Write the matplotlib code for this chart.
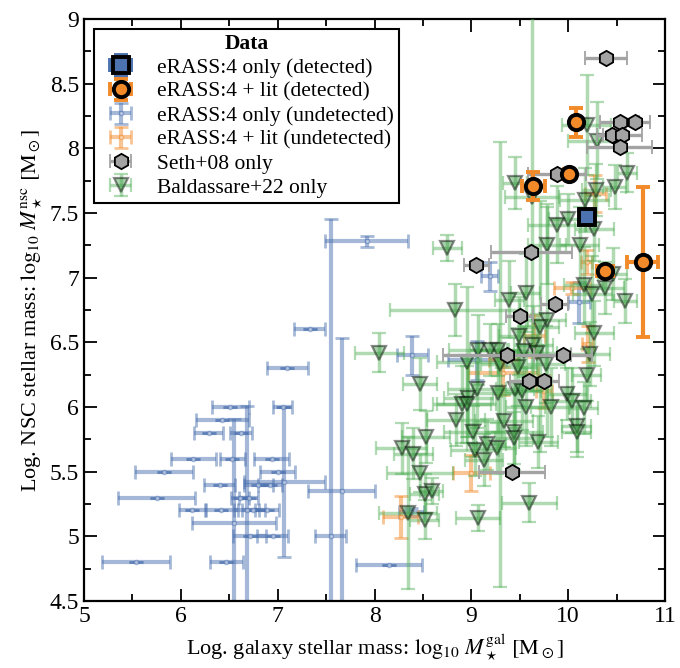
import numpy as np
import matplotlib
matplotlib.use("Agg")
import matplotlib.pyplot as plt
from matplotlib.ticker import MultipleLocator, FuncFormatter

plt.rcParams['font.family'] = ['Liberation Serif', 'DejaVu Serif']
plt.rcParams['mathtext.fontset'] = 'stix'

# eRASS:4 only, detected
det_x = [10.19]
det_y = [7.47]
det_xerr = [0.05]
det_yerr = [0.04]

# eRASS:4 + literature, detected
detlit_x = [10.08, 10.01, 9.64, 10.38, 10.77]
detlit_y = [8.20, 7.80, 7.71, 7.05, 7.12]
detlit_xerr = [0.04, 0.05, 0.12, 0.08, 0.16]
detlit_yerr = [0.11, 0.03, 0.11, 0.03, 0.58]

# eRASS:4 only, undetected
und_x = [6.51, 7.05, 6.43, 6.29, 6.62, 6.13, 6.53, 6.94, 5.83, 7.00,
         6.40, 6.80, 6.92, 7.07, 5.75, 6.61, 6.70, 6.12, 6.42, 6.68,
         6.75, 6.89, 6.55, 6.71, 6.95, 7.55, 5.54, 6.47, 8.15, 7.66,
         7.92, 7.33, 7.10, 8.39, 9.19, 9.06, 10.11, 8.38]
und_y = [6.00, 6.00, 5.90, 5.80, 5.80, 5.60, 5.60, 5.60, 5.50, 5.50,
         5.40, 5.40, 5.40, 5.42, 5.30, 5.30, 5.30, 5.20, 5.20, 5.20,
         5.20, 5.20, 5.10, 5.00, 5.00, 5.00, 4.80, 4.80, 4.78, 5.35,
         7.28, 6.60, 6.30, 6.40, 7.01, 6.36, 6.81, 5.19]
und_xerr = [0.19, 0.10, 0.27, 0.15, 0.11, 0.23, 0.13, 0.18, 0.30, 0.18,
            0.16, 0.15, 0.12, 0.42, 0.40, 0.09, 0.10, 0.14, 0.17, 0.13,
            0.12, 0.12, 0.43, 0.17, 0.16, 0.16, 0.35, 0.17, 0.34, 0.35,
            0.43, 0.16, 0.21, 0.16, 0.09, 0.30, 0.11, 0.13]
und_yerr = [0, 0, 0, 0, 0, 0, 0, 0, 0, 0,
            0, 0, 0, 0.58, 0, 0, 0, 0, 0, 0.81,
            0, 0, 0.81, 0, 0, 2.45, 0, 0, 0, 1.18,
            0.04, 0, 0, 0.15, 0.11, 0.15, 0.16, 0.03]

# eRASS:4 + literature, undetected
undlit_x = [10.19, 10.04, 9.65, 10.20, 9.33, 9.33, 9.75, 9.00, 8.27, 10.28]
undlit_y = [7.12, 6.92, 6.55, 6.49, 6.36, 6.26, 6.12, 5.49, 5.15, 7.65]
undlit_xerr = [0.06, 0.19, 0.11, 0.06, 0.15, 0.36, 0.08, 0.19, 0.18, 0.11]
undlit_yerr = [0.09, 0.05, 0.16, 0.14, 0.05, 0.17, 0.13, 0.14, 0.16, 0.14]

# Seth+08
seth_x = [10.39, 10.53, 10.69, 10.45, 10.56, 10.53, 9.88, 9.62, 9.05, 9.86,
          9.50, 9.37, 9.95, 9.60, 9.75, 9.42]
seth_y = [8.70, 8.20, 8.20, 8.10, 8.10, 8.01, 7.80, 7.20, 7.10, 6.80,
          6.70, 6.40, 6.40, 6.20, 6.20, 5.50]
seth_xerr = [0.22, 0.20, 0.15, 0.15, 0.20, 0.34, 0.30, 0.42, 0.13, 0.14,
             0.14, 0.66, 0.30, 0.20, 0.15, 0.34]

# Baldassare+22
bald_x = [10.19, 10.30, 9.45, 9.63, 10.61, 10.48, 10.29, 10.17, 9.88, 10.00,
          10.27, 8.75, 9.78, 10.12, 9.39, 9.56, 8.83, 9.78, 9.71, 10.16,
          10.25, 10.38, 10.59, 10.46, 10.27, 9.49, 9.64, 9.07, 9.19, 9.28,
          8.05, 9.54, 9.68, 10.23, 8.95, 9.30, 9.48, 9.77, 10.19, 8.47,
          9.06, 9.45, 9.52, 9.27, 9.99, 10.04, 8.97, 8.90, 8.95, 9.56,
          9.82, 10.16, 8.84, 9.34, 10.09, 10.09, 9.02, 9.44, 9.44, 8.53,
          9.69, 8.28, 8.40, 9.04, 9.16, 9.26, 9.13, 8.47, 8.52, 8.59,
          9.60, 8.35, 8.52, 9.07]
bald_y = [8.18, 8.06, 7.73, 7.62, 7.81, 7.70, 7.68, 7.60, 7.41, 7.45,
          7.38, 7.23, 7.25, 7.25, 6.83, 6.88, 6.75, 6.67, 6.62, 6.94,
          6.87, 6.92, 6.82, 7.03, 6.57, 6.55, 6.48, 6.44, 6.44, 6.44,
          6.42, 6.43, 6.42, 6.41, 6.35, 6.33, 6.31, 6.33, 6.25, 6.18,
          6.14, 6.14, 6.12, 6.11, 6.10, 6.05, 6.07, 6.02, 6.02, 6.00,
          6.00, 5.99, 5.90, 5.89, 5.85, 5.81, 5.81, 5.81, 5.76, 5.77,
          5.73, 5.68, 5.64, 5.67, 5.71, 5.68, 5.59, 5.49, 5.33, 5.35,
          5.26, 5.18, 5.13, 5.14]
bald_xerr = [0.25, 0.30, 0.12, 0.28, 0.10, 0.12, 0.15, 0.25, 0.30, 0.20,
             0.20, 0.15, 0.20, 0.20, 0.15, 0.15, 0.67, 0.20, 0.20, 0.20,
             0.20, 0.20, 0.12, 0.15, 0.20, 0.20, 0.20, 0.30, 0.20, 0.20,
             0.25, 0.20, 0.20, 0.20, 0.30, 0.20, 0.20, 0.20, 0.15, 0.18,
             0.30, 0.20, 0.20, 0.25, 0.20, 0.20, 0.25, 0.30, 0.30, 0.20,
             0.20, 0.15, 0.30, 0.30, 0.15, 0.15, 0.30, 0.30, 0.20, 0.25,
             0.20, 0.26, 0.20, 0.25, 0.20, 0.20, 0.20, 0.34, 0.15, 0.12,
             0.28, 0.30, 0.15, 0.23]
bald_yerr = [0.39, 0.30, 0.20, 1.50, 0.15, 0.17, 0.20, 0.25, 0.30, 0.20,
             0.25, 0.10, 0.30, 0.30, 0.30, 0.30, 0.20, 0.90, 0.97, 0.30,
             0.30, 0.20, 0.17, 0.20, 0.25, 0.30, 0.30, 0.27, 0.20, 0.20,
             0.15, 0.20, 0.30, 0.25, 0.58, 1.72, 0.30, 0.30, 0.20, 0.20,
             0.30, 0.30, 0.30, 0.30, 0.20, 0.25, 0.30, 0.30, 0.30, 0.30,
             0.30, 0.20, 0.20, 0.20, 0.20, 0.20, 0.20, 0.30, 0.20, 0.20,
             0.20, 0.20, 0.20, 0.20, 0.20, 0.20, 0.20, 0.15, 0.15, 0.10,
             0.15, 0.59, 0.15, 0.10]

blue = '#4c72b0'
orange = '#f28a2a'
green = '#3f9a45'
grey = '#a3a3a3'

fig = plt.figure(figsize=(6.8, 6.68), dpi=100)
ax = fig.add_axes([0.1235, 0.1003, 0.8545, 0.8713])

h_und = ax.errorbar(und_x, und_y, xerr=und_xerr, yerr=und_yerr, fmt='o', ms=3,
                    mfc='white', mec=blue, color=blue, elinewidth=3, capsize=5,
                    capthick=2, alpha=0.5, label='eRASS:4 only (undetected)', zorder=2)
h_undlit = ax.errorbar(undlit_x, undlit_y, xerr=undlit_xerr, yerr=undlit_yerr, fmt='o', ms=3,
                       mfc='white', mec=orange, color=orange, elinewidth=3, capsize=5,
                       capthick=2, alpha=0.5, label='eRASS:4 + lit (undetected)', zorder=3)
h_bald = ax.errorbar(bald_x, bald_y, xerr=bald_xerr, yerr=bald_yerr, fmt='v', ms=10.5,
                     mfc=green, mec='k', mew=1.6, color='#4fae55', elinewidth=2.5, capsize=5,
                     capthick=1.8, alpha=0.45, label='Baldassare+22 only', zorder=4)
h_seth = ax.errorbar(seth_x, seth_y, xerr=seth_xerr, fmt='h', ms=11,
                     mfc=grey, mec='k', mew=1.3, color=grey, elinewidth=2.4, capsize=5,
                     capthick=2, label='Seth+08 only', zorder=5)
h_detlit = ax.errorbar(detlit_x, detlit_y, xerr=detlit_xerr, yerr=detlit_yerr, fmt='o', ms=11,
                       mfc=orange, mec='k', mew=2.8, color=orange, elinewidth=3, capsize=5,
                       capthick=3, label='eRASS:4 + lit (detected)', zorder=6)
h_det = ax.errorbar(det_x, det_y, xerr=det_xerr, yerr=det_yerr, fmt='s', ms=11,
                    mfc=blue, mec='k', mew=2.8, color=blue, elinewidth=3, capsize=5,
                    capthick=3, label='eRASS:4 only (detected)', zorder=7)

ax.set_xlim(5, 11)
ax.set_ylim(4.5, 9)
ax.xaxis.set_major_locator(MultipleLocator(1))
ax.xaxis.set_minor_locator(MultipleLocator(0.5))
ax.yaxis.set_major_locator(MultipleLocator(0.5))
ax.yaxis.set_minor_locator(MultipleLocator(0.25))
ax.yaxis.set_major_formatter(FuncFormatter(lambda v, p: '%g' % v))
ax.tick_params(which='both', direction='in', top=True, right=True, labelsize=17, width=1.3)
ax.tick_params(which='major', length=9)
ax.tick_params(which='minor', length=5)
for s in ax.spines.values():
    s.set_linewidth(1.6)

ax.set_xlabel(r'Log. galaxy stellar mass: $\log_{10}\,M_\star^{\rm gal}$ $[\mathrm{M}_\odot]$', fontsize=16)
ax.set_ylabel(r'Log. NSC stellar mass: $\log_{10}\,M_\star^{\rm nsc}$ $[\mathrm{M}_\odot]$', fontsize=16)

leg = ax.legend(handles=[h_det, h_detlit, h_und, h_undlit, h_seth, h_bald], loc='upper left',
                title='Data', title_fontproperties={'weight': 'bold', 'size': 15.5}, fontsize=15.5,
                fancybox=False, edgecolor='k', framealpha=1, borderpad=0.25, labelspacing=0.18,
                handletextpad=0.7, borderaxespad=0.45)
leg.get_frame().set_linewidth(1.5)

fig.savefig('out.png', dpi=100)
